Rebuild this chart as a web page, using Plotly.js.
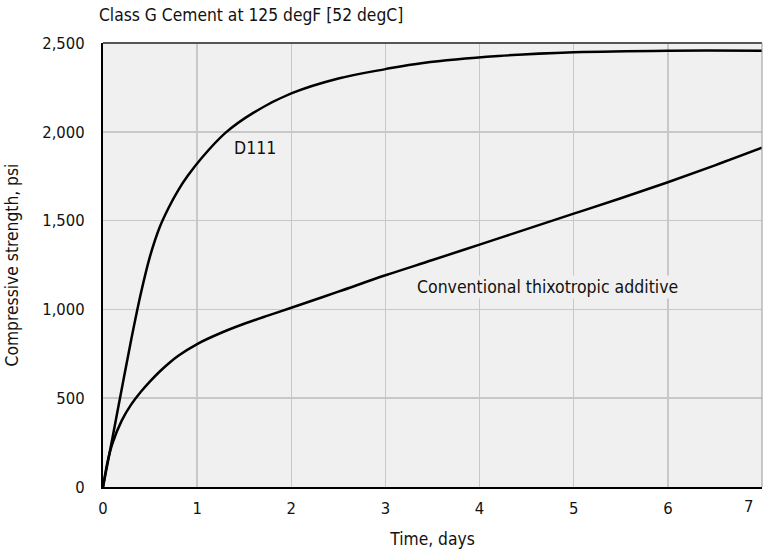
<!DOCTYPE html>
<html>
<head>
<meta charset="utf-8">
<script src="https://cdn.plot.ly/plotly-3.0.1.min.js"></script>
<style>html,body{margin:0;padding:0;background:#fff;}#chart{width:763px;height:556px;}</style>
</head>
<body>
<div id="chart"></div>
<script>
// Time, days
const d111Days = [0, 0.1, 0.2, 0.3, 0.4, 0.5, 0.6, 0.7, 0.8, 0.9, 1.05, 1.3, 1.6, 2.0, 2.5, 3.0, 3.4, 4.2, 5.0, 6.0, 7.0];
// Compressive strength, psi
const d111Psi  = [0, 275, 555, 830, 1085, 1300, 1460, 1575, 1672, 1752, 1854, 1994, 2108, 2216, 2300, 2353, 2388, 2427, 2448, 2457, 2457];

const convDays = [0, 0.05, 0.1, 0.2, 0.3, 0.4, 0.5, 0.6, 0.7, 0.8, 1.0, 1.25, 1.5, 1.75, 2.0, 2.5, 3.0, 3.5, 4.0, 4.5, 5.0, 5.5, 6.0, 6.5, 7.0];
const convPsi  = [0, 145, 245, 375, 465, 535, 595, 649, 697, 739, 805, 867, 919, 965, 1009, 1100, 1192, 1278, 1365, 1452, 1539, 1626, 1716, 1811, 1910];

const seriesNames = ['D111', 'Conventional thixotropic additive'];
const xTickVals = [0, 1, 2, 3, 4, 5, 6, 7];
const xTickText = ['0', '1', '2', '3', '4', '5', '6', '7'];
const yTickVals = [0, 500, 1000, 1500, 2000, 2500];

const titleText = 'Class G Cement at 125 degF [52 degC]';
const xTitle = 'Time, days';
const yTitle = 'Compressive strength, psi';

const FONT = '"DejaVu Sans Condensed", "Liberation Sans Narrow", sans-serif';
const INK = '#111';

const traces = [
  {x: d111Days, y: d111Psi, name: seriesNames[0], mode: 'lines',
   line: {color: '#000', width: 2.5, shape: 'spline', smoothing: 1}},
  {x: convDays, y: convPsi, name: seriesNames[1], mode: 'lines',
   line: {color: '#000', width: 2.5, shape: 'spline', smoothing: 1}}
];

const lastIdx = xTickVals.length - 1;

const layout = {
  width: 763, height: 556,
  margin: {l: 103, r: 1, t: 43, b: 69},
  paper_bgcolor: '#fff', plot_bgcolor: '#f0f0f0',
  showlegend: false,
  font: {family: FONT, size: 16, color: INK},
  title: {text: titleText, xref: 'container', yref: 'container', x: 99/763, xanchor: 'left',
          y: 1 - 15/556, yanchor: 'middle', font: {family: FONT, size: 17.3, color: INK}},
  xaxis: {range: [0, 7], tickvals: xTickVals.slice(0, lastIdx),
          ticktext: xTickText.slice(0, lastIdx),
          showgrid: true, gridcolor: '#c8c8c8', gridwidth: 1.5,
          showline: true, linecolor: '#000', linewidth: 2, ticks: '', zeroline: false,
          ticklabelstandoff: 5,
          tickfont: {family: FONT, size: 16.5, color: INK},
          title: {text: xTitle, standoff: 16, font: {family: FONT, size: 17.3, color: INK}}},
  yaxis: {range: [0, 2500], tickvals: yTickVals, tickformat: ',d',
          showgrid: true, gridcolor: '#c8c8c8', gridwidth: 1.5,
          showline: true, linecolor: '#000', linewidth: 2, ticks: '', zeroline: false,
          ticklabelstandoff: 13,
          tickfont: {family: FONT, size: 16.5, color: INK},
          title: {text: yTitle, standoff: 19, font: {family: FONT, size: 17.3, color: INK}}},
  shapes: [
    {type: 'line', xref: 'paper', yref: 'paper', x0: 0, x1: 1, y0: 1, y1: 1,
     line: {color: '#555', width: 2}},
    {type: 'line', xref: 'paper', yref: 'paper', x0: 1, x1: 1, y0: 0, y1: 1,
     line: {color: '#999', width: 1}}
  ],
  annotations: [
    {x: 1.615, y: 1909, xref: 'x', yref: 'y', text: seriesNames[0], showarrow: false,
     font: {family: FONT, size: 17.5, color: INK}},
    {x: 4.72, y: 1126, xref: 'x', yref: 'y', text: seriesNames[1], showarrow: false,
     bgcolor: '#f0f0f0', font: {family: FONT, size: 17.5, color: INK}},
    {x: xTickVals[lastIdx], y: 0, xref: 'x', yref: 'y', text: xTickText[lastIdx], showarrow: false,
     xanchor: 'right', yanchor: 'top', xshift: -7, yshift: -8,
     font: {family: FONT, size: 16.5, color: INK}}
  ]
};

Plotly.newPlot('chart', traces, layout, {displayModeBar: false, staticPlot: true});
</script>
</body>
</html>
